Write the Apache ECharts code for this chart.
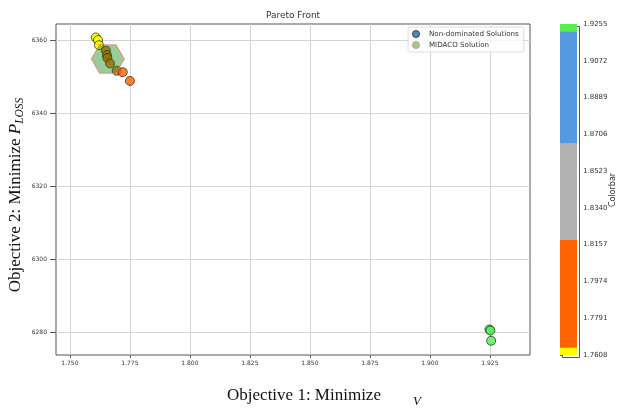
<!DOCTYPE html>
<html>
<head>
<meta charset="utf-8">
<script src="https://cdn.jsdelivr.net/npm/echarts@6/dist/echarts.min.js"></script>
<style>
  html, body { margin: 0; padding: 0; background: #fff; }
  #chart { width: 624px; height: 408px; }
</style>
</head>
<body>
<div id="chart"></div>
<script>
// Objective values of the non-dominated solutions
const objective1 = [1.7608, 1.7617, 1.7621, 1.7650, 1.7654, 1.7656, 1.7667, 1.7695, 1.7720, 1.7750, 1.9248, 1.9252, 1.9255];
const objective2 = [6360.7, 6360.0, 6358.6, 6357.1, 6355.9, 6355.1, 6353.6, 6351.6, 6351.2, 6348.8, 6280.7, 6280.4, 6277.6];

// The single MIDACO solution
const midacoObjective1 = [1.7658];
const midacoObjective2 = [6354.8];

// Axis ticks
const xTicks = [1.750, 1.775, 1.800, 1.825, 1.850, 1.875, 1.900, 1.925];
const yTicks = [6280, 6300, 6320, 6340, 6360];
const colorbarTicks = [1.7608, 1.7791, 1.7974, 1.8157, 1.8340, 1.8523, 1.8706, 1.8889, 1.9072, 1.9255];

// Discrete colour map: band edges and colours
const bandEdges = [1.7608, 1.7644, 1.8180, 1.8661, 1.9219, 1.9255];
const bandColors = ['#ffff00', '#ff6200', '#b3b3b3', '#5599e0', '#55ee55'];

function bandColor(v) {
  for (let i = 0; i < bandColors.length; i++) {
    if (v <= bandEdges[i + 1]) return bandColors[i];
  }
  return bandColors[bandColors.length - 1];
}

const solutionData = objective1.map((x, i) => ({
  value: [x, objective2[i]],
  itemStyle: { color: bandColor(x) }
}));
const midacoData = midacoObjective1.map((x, i) => [x, midacoObjective2[i]]);
const bandData = bandColors.map((c, i) => [bandEdges[i], bandEdges[i + 1], i]);

const tickFont = { fontFamily: 'DejaVu Sans', fontSize: 6, color: '#333' };
const barFont = { fontFamily: 'DejaVu Sans', fontSize: 7, color: '#333' };
const hexagon = 'path://M-2,0 L-1,-1.732 L1,-1.732 L2,0 L1,1.732 L-1,1.732 Z';

const chart = echarts.init(document.getElementById('chart'), null, { renderer: 'canvas' });

chart.setOption({
  animation: false,
  backgroundColor: '#fff',
  title: {
    text: 'Pareto Front',
    left: 293, top: 11, padding: 0, textAlign: 'center',
    textStyle: { fontFamily: 'DejaVu Sans', fontSize: 9, fontWeight: 'normal', color: '#333' }
  },
  legend: {
    left: 408, top: 27,
    orient: 'vertical',
    padding: [3, 5, 3, 4],
    itemWidth: 12, itemHeight: 7, itemGap: 3,
    borderColor: '#ddd', borderWidth: 1, borderRadius: 2,
    backgroundColor: 'rgba(255,255,255,0.8)',
    textStyle: { fontFamily: 'DejaVu Sans', fontSize: 7.1, color: '#333', padding: [0, 0, 0, 2] },
    data: [
      { name: 'Non-dominated Solutions', icon: 'circle',
        itemStyle: { color: '#1f6fb4', borderColor: '#222', borderWidth: 1 } },
      { name: 'MIDACO Solution', icon: 'circle',
        itemStyle: { color: '#80c080', borderColor: '#f08060', borderWidth: 1 } }
    ]
  },
  grid: [
    { left: 56, top: 24, width: 474, height: 331, show: true, borderColor: '#555', borderWidth: 1, backgroundColor: 'transparent' },
    { left: 560, top: 24, width: 17, height: 331, show: false }
  ],
  xAxis: [
    {
      gridIndex: 0, type: 'value', min: 1.7442, max: 1.9417,
      axisLine: { show: false },
      axisTick: { show: true, length: 3, lineStyle: { color: '#555' }, customValues: xTicks },
      axisLabel: Object.assign({ margin: 5, customValues: xTicks, formatter: v => v.toFixed(3) }, tickFont),
      splitLine: { show: true, lineStyle: { color: '#d4d4d4', width: 1 } }
    },
    {
      gridIndex: 1, type: 'value', min: 0, max: 1,
      show: false
    }
  ],
  yAxis: [
    {
      gridIndex: 0, type: 'value', min: 6273.7, max: 6364.4,
      axisLine: { show: false },
      axisTick: { show: true, length: 6, lineStyle: { color: '#555' }, customValues: yTicks },
      axisLabel: Object.assign({ margin: 9, customValues: yTicks, formatter: v => String(Math.round(v)) }, tickFont),
      splitLine: { show: true, lineStyle: { color: '#d4d4d4', width: 1 } }
    },
    {
      gridIndex: 1, type: 'value', position: 'right',
      min: bandEdges[0], max: bandEdges[bandEdges.length - 1],
      axisLine: { show: false },
      axisTick: { show: true, length: 3, lineStyle: { color: '#555' }, customValues: colorbarTicks },
      axisLabel: Object.assign({ margin: 6, customValues: colorbarTicks, formatter: v => v.toFixed(4) }, barFont),
      splitLine: { show: false }
    }
  ],
  series: [
    {
      name: 'Non-dominated Solutions',
      type: 'scatter',
      xAxisIndex: 0, yAxisIndex: 0,
      symbol: 'circle', symbolSize: 9,
      itemStyle: { color: '#1f6fb4', borderColor: 'rgba(20,20,20,0.85)', borderWidth: 1 },
      data: solutionData,
      z: 3
    },
    {
      name: 'MIDACO Solution',
      type: 'scatter',
      xAxisIndex: 0, yAxisIndex: 0,
      symbol: hexagon, symbolSize: [33, 28.6],
      itemStyle: { color: 'rgba(0,128,0,0.5)', borderColor: 'rgba(240,110,90,0.8)', borderWidth: 1 },
      data: midacoData,
      z: 4
    },
    {
      // Colour bar bands
      type: 'custom',
      xAxisIndex: 1, yAxisIndex: 1,
      silent: true,
      renderItem: function (params, api) {
        const lo = api.value(0), hi = api.value(1), idx = api.value(2);
        const p0 = api.coord([0, lo]);
        const p1 = api.coord([1, hi]);
        return {
          type: 'rect',
          shape: { x: p0[0], y: p1[1], width: p1[0] - p0[0], height: p0[1] - p1[1] },
          style: { fill: bandColors[idx] }
        };
      },
      data: bandData
    }
  ],
  graphic: [
    {
      // Colour bar outline
      type: 'rect', left: 560, top: 24, silent: true,
      shape: { width: 17, height: 331 },
      style: { fill: 'none', stroke: '#555', lineWidth: 1 }
    },
    {
      type: 'text', x: 613, y: 190, rotation: Math.PI / 2, silent: true,
      style: { text: 'Colorbar', fontFamily: 'DejaVu Sans', fontSize: 8, fill: '#333', align: 'center', verticalAlign: 'middle' }
    },
    {
      type: 'text', x: 304, y: 396, silent: true,
      style: { text: 'Objective 1: Minimize', fontFamily: 'Liberation Serif', fontSize: 17, fill: '#111', align: 'center', verticalAlign: 'middle' }
    },
    {
      type: 'text', x: 417, y: 402, silent: true,
      style: { text: 'V', fontFamily: 'Liberation Serif', fontStyle: 'italic', fontSize: 13, fill: '#111', align: 'center', verticalAlign: 'middle' }
    },
    {
      type: 'text', x: 16, y: 195, rotation: Math.PI / 2, silent: true,
      style: {
        text: '{m|Objective 2: Minimize }{p|P}{s|LOSS}',
        align: 'center', verticalAlign: 'middle',
        rich: {
          m: { fontFamily: 'Liberation Serif', fontSize: 17, fill: '#111', lineHeight: 20, verticalAlign: 'middle' },
          p: { fontFamily: 'Liberation Serif', fontStyle: 'italic', fontSize: 17, fill: '#111', lineHeight: 20, verticalAlign: 'middle' },
          s: { fontFamily: 'Liberation Serif', fontStyle: 'italic', fontSize: 11.5, fill: '#111', lineHeight: 20, verticalAlign: 'bottom', padding: [6, 0, 0, 0] }
        }
      }
    }
  ]
});
</script>
</body>
</html>
